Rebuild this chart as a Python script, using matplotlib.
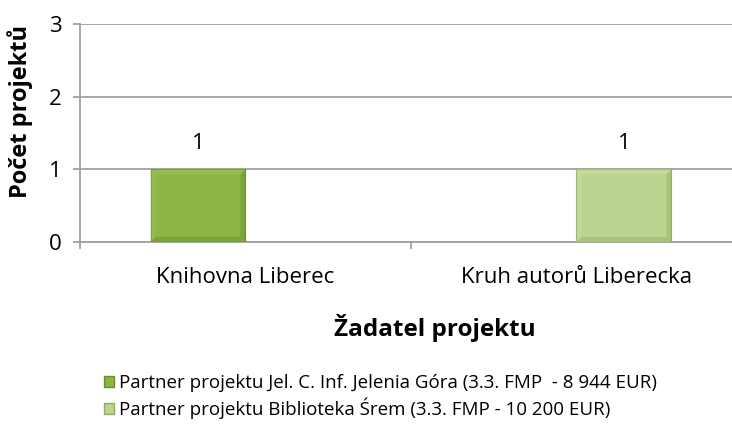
import matplotlib.pyplot as plt
import numpy as np
from matplotlib.patches import Patch, Polygon

plt.rcParams['font.family'] = ['Open Sans', 'DejaVu Sans']

categories = ['Knihovna Liberec', 'Kruh autorů Liberecka']
series_names = ['Partner projektu Jel. C. Inf. Jelenia Góra (3.3. FMP  - 8 944 EUR)',
                'Partner projektu Biblioteka Śrem (3.3. FMP - 10 200 EUR)']
series_values = [[1, 0], [0, 1]]
face_colors = ['#8DB544', '#BCD48F']
light_colors = ['#A3C65E', '#CCE0A6']
dark_colors = ['#6A8C2C', '#93AE63']

fig = plt.figure(figsize=(7.32, 4.33), dpi=100)
ax = fig.add_axes([80 / 732, 1 - 242 / 433, 662 / 732, 218 / 433])

x = np.arange(len(categories))
w = 0.287
bx, by = 5 / 331, 5 / 72.7  # bevel size in data units


def bevel(ax, rect, light, dark):
    # fake Excel bevel: lighter top/left, darker bottom/right
    x0, y0 = rect.get_x(), rect.get_y()
    x1, y1 = x0 + rect.get_width(), y0 + rect.get_height()
    pieces = [
        ([(x0, y1), (x1, y1), (x1 - bx, y1 - by), (x0 + bx, y1 - by)], light),
        ([(x0, y0), (x0, y1), (x0 + bx, y1 - by), (x0 + bx, y0 + by)], light),
        ([(x1, y0), (x1, y1), (x1 - bx, y1 - by), (x1 - bx, y0 + by)], dark),
        ([(x0, y0), (x1, y0), (x1 - bx, y0 + by), (x0 + bx, y0 + by)], dark),
    ]
    for pts, c in pieces:
        ax.add_patch(Polygon(pts, closed=True, facecolor=c, edgecolor='none', alpha=0.45, zorder=4))


for i, vals in enumerate(series_values):
    offs = (i - 0.5) * w
    for xi, v in zip(x, vals):
        if v == 0:
            continue
        bars = ax.bar(xi + offs, v, width=w, color=face_colors[i], edgecolor=dark_colors[i],
                      linewidth=0.8, zorder=3)
        bevel(ax, bars[0], light_colors[i], dark_colors[i])
        ax.annotate(str(v), (xi + offs, v), xytext=(0, 11), textcoords='offset points',
                    ha='center', va='bottom', fontsize=16)

ax.set_xlim(-0.5, 1.5)
ax.set_ylim(0, 3)
ax.set_yticks([0, 1, 2, 3])
ax.yaxis.grid(True, color='#A0A0A0', linewidth=1.3, zorder=0)
ax.set_xticks(x)
ax.set_xticklabels(categories, fontsize=16)
ax.set_xticks([-0.5, 0.5, 1.5], minor=True)
ax.tick_params(axis='x', which='major', length=0, pad=18)
ax.tick_params(axis='x', which='minor', length=5, color='#A0A0A0', width=1.3)
ax.tick_params(axis='y', length=5, color='#A0A0A0', width=1.3, labelsize=16, pad=8)
for s in ['top', 'right']:
    ax.spines[s].set_visible(False)
for s in ['left', 'bottom']:
    ax.spines[s].set_color('#A0A0A0')
    ax.spines[s].set_linewidth(1.3)

fig.text(435 / 732, 1 - 328 / 433, 'Žadatel projektu', ha='center', va='center',
         fontsize=17.5, fontweight='bold')
fig.text(20 / 732, 1 - 111 / 433, 'Počet projektů', ha='center', va='center',
         rotation=90, fontsize=17, fontweight='bold')

handles = [Patch(facecolor=face_colors[i], edgecolor=dark_colors[i]) for i in range(2)]
fig.legend(handles, series_names, loc='upper left', bbox_to_anchor=(104 / 732, 1 - 374 / 433),
           frameon=False, fontsize=13.5, handlelength=0.55, handleheight=0.55,
           handletextpad=0.25, labelspacing=0.3, borderaxespad=0, borderpad=0)

fig.savefig('out.png', dpi=100)
